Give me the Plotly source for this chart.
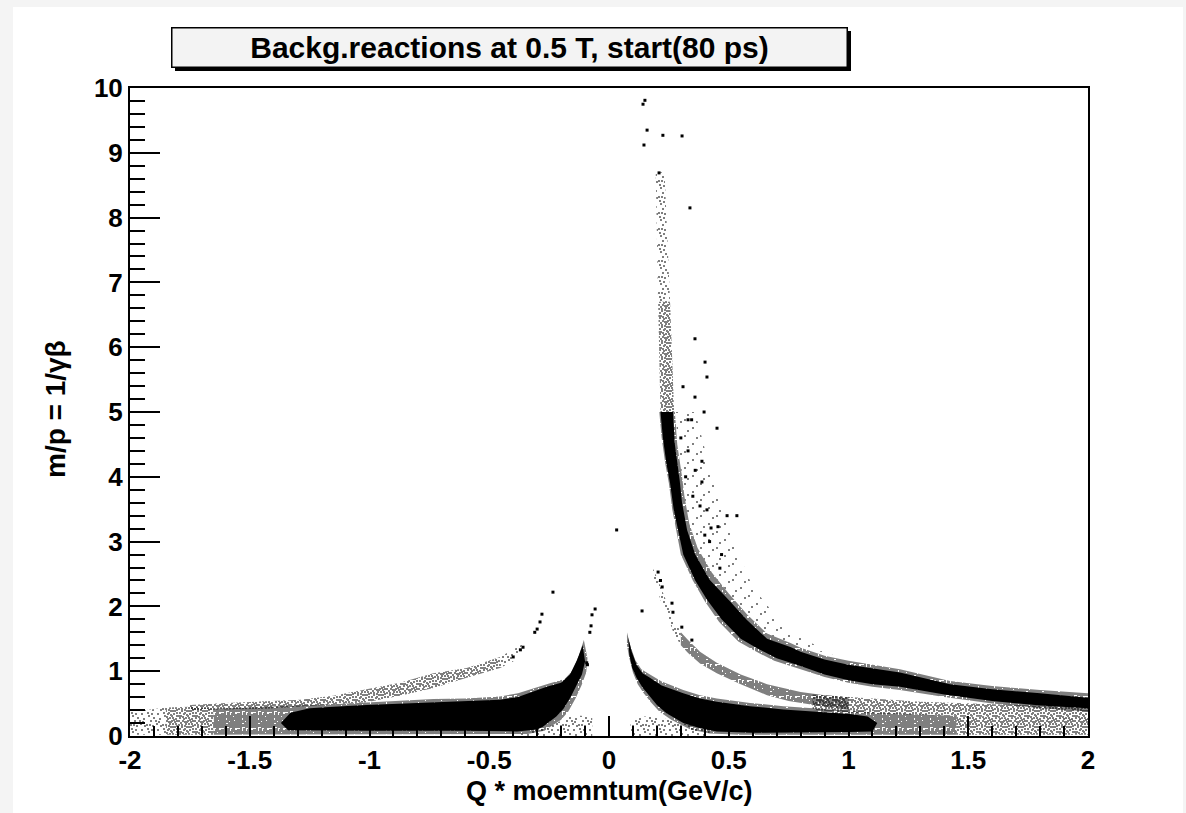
import plotly.graph_objects as go

# ---------------- data ----------------
title_text = "Backg.reactions at 0.5 T, start(80 ps)"
x_title = "Q * moemntum(GeV/c)"
y_title = "m/p = 1/γβ"
x_tick_vals = [-2, -1.5, -1, -0.5, 0, 0.5, 1, 1.5, 2]
x_tick_text = ["-2", "-1.5", "-1", "-0.5", "0", "0.5", "1", "1.5", "2"]
y_tick_vals = [0, 1, 2, 3, 4, 5, 6, 7, 8, 9, 10]
y_tick_text = ["0", "1", "2", "3", "4", "5", "6", "7", "8", "9", "10"]

# outlines of the point clouds (data units)
# --- protons (+) ---
proton_core_x = [0.215, 0.225, 0.24, 0.255, 0.27, 0.288, 0.31, 0.36, 0.41, 0.47, 0.55, 0.62, 0.70, 0.80, 0.90, 1.00, 1.10, 1.215, 1.40, 1.60, 1.80, 2.00,
                 2.00, 1.80, 1.60, 1.424, 1.215, 1.00, 0.90, 0.80, 0.76, 0.66, 0.576, 0.50, 0.42, 0.36, 0.326, 0.305, 0.295, 0.275, 0.267]
proton_core_y = [5.0, 4.6, 4.2, 3.9, 3.5, 3.18, 2.8, 2.4, 2.1, 1.8, 1.5, 1.35, 1.2, 1.08, 0.95, 0.86, 0.80, 0.76, 0.64, 0.54, 0.47, 0.43,
                 0.59, 0.66, 0.72, 0.80, 0.98, 1.10, 1.18, 1.30, 1.37, 1.50, 1.79, 2.10, 2.41, 2.80, 3.18, 3.60, 3.95, 4.50, 5.0]
proton_fuzz_x = [0.21, 0.22, 0.235, 0.25, 0.264, 0.28, 0.30, 0.35, 0.40, 0.46, 0.54, 0.61, 0.69, 0.80, 0.90, 1.00, 1.10, 1.215, 1.40, 1.60, 1.80, 2.00,
                 2.00, 1.80, 1.60, 1.424, 1.215, 1.00, 0.90, 0.80, 0.76, 0.66, 0.576, 0.50, 0.43, 0.37, 0.335, 0.315, 0.305, 0.285, 0.275]
proton_fuzz_y = [5.0, 4.6, 4.2, 3.9, 3.5, 3.18, 2.8, 2.4, 2.08, 1.76, 1.46, 1.31, 1.16, 1.03, 0.91, 0.82, 0.76, 0.71, 0.60, 0.50, 0.43, 0.38,
                 0.66, 0.71, 0.77, 0.85, 1.03, 1.16, 1.24, 1.36, 1.43, 1.58, 1.88, 2.20, 2.52, 2.90, 3.28, 3.70, 4.00, 4.50, 5.0]
proton_mid_x = [0.205, 0.21, 0.215, 0.272, 0.264, 0.255]
proton_mid_y = [6.7, 5.8, 5.0, 5.0, 5.8, 6.7]
proton_top_x = [0.195, 0.20, 0.205, 0.255, 0.245, 0.232]
proton_top_y = [8.7, 7.6, 6.7, 6.7, 7.6, 8.7]
proton_halo_x = [0.275, 0.36, 0.43, 0.52, 0.60, 0.75, 0.95, 0.80, 0.66, 0.576, 0.50, 0.43, 0.37, 0.335, 0.315, 0.305]
proton_halo_y = [5.0, 5.0, 4.0, 3.0, 2.3, 1.6, 1.25, 1.36, 1.58, 1.88, 2.20, 2.52, 2.90, 3.28, 3.70, 4.00]

# --- kaons (+) ---
kaon_pos_start_x = [0.175, 0.20, 0.235, 0.265, 0.30, 0.30, 0.27, 0.245, 0.215, 0.19]
kaon_pos_start_y = [2.65, 2.45, 2.12, 1.85, 1.60, 1.40, 1.58, 1.85, 2.10, 2.40]
kaon_pos_band_x = [0.30, 0.33, 0.38, 0.45, 0.55, 0.66, 0.80, 0.90, 1.00,
                   1.00, 0.87, 0.75, 0.66, 0.55, 0.45, 0.38, 0.33, 0.30]
kaon_pos_band_y = [1.60, 1.48, 1.30, 1.13, 0.95, 0.80, 0.68, 0.63, 0.60,
                   0.40, 0.47, 0.54, 0.63, 0.80, 0.97, 1.12, 1.28, 1.40]
kaon_pos_wide_x = [0.85, 1.00, 1.15, 1.30, 1.45, 1.60, 1.80, 2.00,
                   2.00, 1.80, 1.60, 1.40, 1.20, 1.00, 0.85]
kaon_pos_wide_y = [0.64, 0.60, 0.56, 0.53, 0.51, 0.49, 0.46, 0.44,
                   0.25, 0.27, 0.29, 0.31, 0.33, 0.36, 0.40]

# --- pions (+) ---
pion_pos_core_x = [0.08, 0.095, 0.115, 0.14, 0.171, 0.22, 0.31, 0.38, 0.45, 0.589, 0.728, 0.867, 1.006, 1.08, 1.12,
                   1.10, 1.00, 0.60, 0.45, 0.38, 0.31, 0.24, 0.20, 0.171, 0.14, 0.115, 0.097, 0.085]
pion_pos_core_y = [1.52, 1.30, 1.10, 0.97, 0.90, 0.78, 0.66, 0.58, 0.53, 0.46, 0.41, 0.37, 0.34, 0.30, 0.20,
                   0.07, 0.06, 0.05, 0.07, 0.12, 0.20, 0.35, 0.48, 0.61, 0.75, 0.90, 1.05, 1.25]
pion_pos_fuzz_x = [0.075, 0.09, 0.11, 0.135, 0.171, 0.22, 0.31, 0.38, 0.45, 0.589, 0.728, 0.867, 1.006, 1.145, 1.30, 1.45,
                   1.45, 1.00, 0.55, 0.42, 0.34, 0.26, 0.21, 0.175, 0.145, 0.12, 0.10, 0.085, 0.075]
pion_pos_fuzz_y = [1.60, 1.38, 1.17, 1.03, 0.95, 0.84, 0.71, 0.63, 0.58, 0.51, 0.46, 0.42, 0.39, 0.36, 0.33, 0.31,
                   0.02, 0.02, 0.02, 0.04, 0.10, 0.25, 0.38, 0.52, 0.66, 0.80, 0.98, 1.20, 1.40]
pion_pos_tail_x = [1.45, 2.00, 2.00, 1.70, 1.45]
pion_pos_tail_y = [0.02, 0.02, 0.26, 0.28, 0.31]
low_pos_x = [0.09, 0.42, 0.42, 0.30, 0.20, 0.12, 0.09]
low_pos_y = [0.0, 0.0, 0.12, 0.20, 0.30, 0.30, 0.20]

# --- pions (-) ---
pion_neg_core_x = [-0.11, -0.134, -0.163, -0.20, -0.26, -0.316, -0.38, -0.455, -0.60, -0.733, -0.87, -1.012, -1.15, -1.25, -1.33, -1.37,
                   -1.34, -1.00, -0.60, -0.384, -0.30, -0.276, -0.22, -0.19, -0.16, -0.135, -0.113, -0.10]
pion_neg_core_y = [1.40, 1.17, 0.95, 0.82, 0.76, 0.68, 0.60, 0.56, 0.54, 0.53, 0.50, 0.48, 0.45, 0.43, 0.36, 0.20,
                   0.09, 0.08, 0.08, 0.07, 0.10, 0.144, 0.30, 0.42, 0.60, 0.80, 0.95, 1.15]
pion_neg_fuzz_x = [-0.105, -0.125, -0.15, -0.185, -0.25, -0.316, -0.38, -0.455, -0.60, -0.733, -0.87, -1.012, -1.15, -1.29, -1.43, -1.55, -1.65,
                   -1.65, -1.00, -0.50, -0.34, -0.27, -0.20, -0.17, -0.14, -0.115, -0.095, -0.09]
pion_neg_fuzz_y = [1.48, 1.25, 1.02, 0.88, 0.81, 0.74, 0.66, 0.61, 0.58, 0.57, 0.54, 0.52, 0.49, 0.47, 0.45, 0.43, 0.42,
                   0.02, 0.02, 0.02, 0.03, 0.08, 0.25, 0.38, 0.58, 0.78, 0.98, 1.20]
neg_tail_near_x = [-1.85, -1.65, -1.65, -1.75, -1.85]
neg_tail_near_y = [0.02, 0.02, 0.42, 0.45, 0.44]
neg_tail_far_x = [-2.00, -1.85, -1.85, -1.93, -2.00]
neg_tail_far_y = [0.02, 0.02, 0.44, 0.40, 0.38]
low_neg_x = [-0.40, -0.07, -0.07, -0.15, -0.25]
low_neg_y = [0.0, 0.0, 0.30, 0.32, 0.15]

# --- kaons (-) ---
kaon_neg_start_x = [-0.36, -0.455, -0.455, -0.40]
kaon_neg_start_y = [1.42, 1.22, 1.05, 1.15]
kaon_neg_x = [-0.455, -0.594, -0.733, -0.873, -1.012, -1.151, -1.29, -1.43, -1.60, -1.75,
              -1.75, -1.43, -1.29, -1.151, -1.012, -0.873, -0.733, -0.594, -0.455]
kaon_neg_y = [1.22, 1.05, 0.97, 0.82, 0.72, 0.62, 0.56, 0.54, 0.51, 0.48,
              0.40, 0.42, 0.45, 0.48, 0.52, 0.62, 0.74, 0.90, 1.05]

# isolated points
single_x = [0.142, 0.150, 0.159, 0.225, 0.305, 0.146, 0.209, 0.338, 0.032, 0.138, 0.359, 0.401, 0.409, 0.309,
            0.359, 0.397, 0.451, 0.330, 0.345, 0.388, 0.388, 0.534, 0.409, 0.455, 0.426, 0.463, 0.493,
            0.30, 0.33, 0.36, 0.32, 0.35, 0.38, 0.42, 0.47, 0.40,
            -0.234, -0.058, -0.071, -0.080, -0.075, -0.280, -0.288, -0.310, -0.300, -0.359, -0.370, -0.400, -0.093, -0.090,
            0.205, 0.215, 0.222, 0.263, 0.267, 0.304, 0.346]
single_y = [9.75, 9.81, 9.35, 9.27, 9.26, 9.12, 8.69, 8.15, 3.18, 1.93, 6.13, 5.77, 5.54, 5.39,
            5.23, 5.00, 4.75, 4.88, 4.88, 4.24, 3.92, 3.40, 3.49, 3.23, 3.21, 2.59, 3.40,
            4.6, 4.4, 4.1, 4.0, 3.7, 3.55, 3.0, 2.8, 3.1,
            2.22, 1.96, 1.87, 1.60, 1.70, 1.88, 1.76, 1.60, 1.65, 1.37, 1.33, 1.22, 1.13, 1.10,
            2.53, 2.40, 2.30, 2.05, 1.91, 1.68, 1.48]

# ---------------- figure ----------------
W, H = 1186, 813
L, R, T, B = 130, 98, 88, 77
PW, PH = W - L - R, H - T - B


def px(xp):
    return (xp - L) / PW


def py(yp):
    return (H - B - yp) / PH


FONT = "Liberation Sans, Arial, sans-serif"

# hand-placed dots inside a 16px texture tile (style only); the first n make a lighter texture
TILE = 16
DOTS = [(2, 3), (10, 11), (6, 13), (13, 6), (4, 8), (11, 1), (7, 5), (14, 13), (0, 12), (9, 8),
        (1, 0), (12, 9), (5, 1), (3, 12), (8, 14), (14, 3), (10, 5), (6, 9), (1, 5), (12, 14),
        (4, 4), (8, 2), (13, 11), (2, 10), (10, 14), (7, 11), (0, 8), (14, 0), (5, 6), (9, 3),
        (3, 14), (11, 7), (8, 9), (0, 3), (6, 0), (14, 8), (4, 11), (12, 3), (2, 6), (10, 12)]


def texture(n, s):
    path = " ".join("M%d,%dh%dv%dh-%dz" % (d[0], d[1], s, s, s) for d in DOTS[:n])
    try:
        fp = go.scatter.Fillpattern(path=path, size=TILE, fgcolor="black", bgcolor="rgba(0,0,0,0)")
    except Exception:
        fp = go.scatter.Fillpattern(shape=".", size=4, solidity=min(0.8, n * s * s / 256), fgcolor="black",
                                    bgcolor="rgba(0,0,0,0)")
    return dict(fill="toself", fillcolor="rgba(0,0,0,0)", fillpattern=fp)


styles = {
    "solid": dict(fill="toself", fillcolor="black"),
    "dense": texture(40, 3),
    "medium": texture(36, 2),
    "sparse": texture(14, 2),
    "faint": texture(4, 2),
}

regions = [
    (proton_halo_x, proton_halo_y, "faint"),
    (low_pos_x, low_pos_y, "sparse"),
    (low_neg_x, low_neg_y, "sparse"),
    (neg_tail_far_x, neg_tail_far_y, "sparse"),
    (neg_tail_near_x, neg_tail_near_y, "medium"),
    (pion_pos_tail_x, pion_pos_tail_y, "medium"),
    (kaon_pos_start_x, kaon_pos_start_y, "sparse"),
    (kaon_pos_wide_x, kaon_pos_wide_y, "medium"),
    (kaon_pos_band_x, kaon_pos_band_y, "dense"),
    (kaon_neg_start_x, kaon_neg_start_y, "sparse"),
    (kaon_neg_x, kaon_neg_y, "medium"),
    (proton_top_x, proton_top_y, "sparse"),
    (proton_mid_x, proton_mid_y, "medium"),
    (proton_fuzz_x, proton_fuzz_y, "dense"),
    (pion_pos_fuzz_x, pion_pos_fuzz_y, "dense"),
    (pion_neg_fuzz_x, pion_neg_fuzz_y, "dense"),
    (proton_core_x, proton_core_y, "solid"),
    (pion_pos_core_x, pion_pos_core_y, "solid"),
    (pion_neg_core_x, pion_neg_core_y, "solid"),
]

fig = go.Figure()
for xs, ys, kind in regions:
    fig.add_trace(go.Scatter(x=xs, y=ys, mode="lines", line=dict(width=0, color="black"),
                             hoverinfo="skip", showlegend=False, **styles[kind]))

fig.add_trace(go.Scatter(x=single_x, y=single_y, mode="markers",
                         marker=dict(symbol="square", size=3, color="black", line=dict(width=0)),
                         showlegend=False))

axis_common = dict(showgrid=False, zeroline=False, showline=True, linecolor="black", linewidth=2,
                   mirror=True, ticks="inside", tickcolor="black", tickwidth=1.5, tickmode="array",
                   tickfont=dict(family=FONT, size=26, color="black", weight="bold"))

fig.update_xaxes(range=[-2, 2], tickvals=x_tick_vals, ticktext=x_tick_text, ticklen=20,
                 minor=dict(ticks="inside", ticklen=10, tick0=0, dtick=0.1, tickcolor="black", tickwidth=1.5, showgrid=False),
                 **axis_common)
fig.update_yaxes(range=[0, 10], tickvals=y_tick_vals, ticktext=y_tick_text, ticklen=30,
                 minor=dict(ticks="inside", ticklen=15, tick0=0, dtick=0.2, tickcolor="black", tickwidth=1.5, showgrid=False),
                 **axis_common)

shapes = [
    dict(type="rect", xref="paper", yref="paper", x0=px(13), x1=px(1183), y0=py(H), y1=py(7),
         fillcolor="white", line=dict(width=0), layer="below"),
    dict(type="rect", xref="paper", yref="paper", x0=px(175), x1=px(851), y0=py(71), y1=py(31),
         fillcolor="black", line=dict(width=0), layer="below"),
]

annotations = [
    dict(text=title_text, xref="paper", yref="paper", x=px(509.5), y=py(47.5), xanchor="center", yanchor="middle",
         showarrow=False, width=672, height=36, bgcolor="#f3f3f3", bordercolor="black", borderwidth=1.5, borderpad=1,
         font=dict(family=FONT, size=30, color="black", weight="bold")),
    dict(text=x_title, xref="paper", yref="paper", x=0.5, y=py(791), xanchor="center", yanchor="middle",
         showarrow=False, font=dict(family=FONT, size=27, color="black", weight="bold")),
    dict(text=y_title, xref="paper", yref="paper", x=px(55), y=py(409), xanchor="center", yanchor="middle",
         textangle=-90, showarrow=False, font=dict(family=FONT, size=28, color="black", weight="bold")),
]

fig.update_layout(width=W, height=H, autosize=False,
                  margin=dict(l=L, r=R, t=T, b=B, pad=0),
                  paper_bgcolor="#f4f4f4", plot_bgcolor="white",
                  font=dict(family=FONT, color="black"),
                  shapes=shapes, annotations=annotations, showlegend=False)

fig.write_html("out.html")
